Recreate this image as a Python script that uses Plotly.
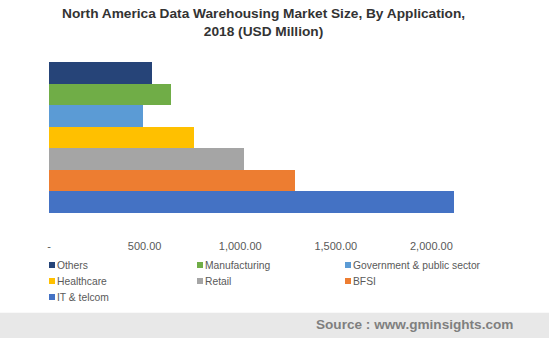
import plotly.graph_objects as go

categories = ["Others", "Manufacturing", "Government & public sector", "Healthcare", "Retail", "BFSI", "IT & telcom"]
values = [541, 640, 494, 756, 1019, 1284, 2117]
colors = ["#264478", "#70AD47", "#5B9BD5", "#FFC000", "#A5A5A5", "#ED7D31", "#4472C4"]
tick_vals = [0, 500, 1000, 1500, 2000]
tick_text = ["-", "500.00", "1,000.00", "1,500.00", "2,000.00"]

W, H = 549, 338
ml, mr, mt, mb = 49, 22, 62, 100
pw, ph = W - ml - mr, H - mt - mb


def py(ypx):
    return (H - mb - ypx) / ph


def px(xpx):
    return (xpx - ml) / pw


fig = go.Figure()
for c, v, col in zip(categories, values, colors):
    fig.add_trace(go.Bar(
        x=[v], y=[c], orientation="h", name=c,
        marker=dict(color=col, line=dict(width=0)),
        hoverinfo="x+y", showlegend=False,
    ))

# legend drawn as swatches + text (3 columns)
shapes = [dict(
    type="rect", xref="paper", yref="paper",
    x0=px(0), x1=px(W), y0=py(H), y1=py(312.7),
    fillcolor="#E8E8E8", line=dict(width=0), layer="below",
)]
annotations = []
col_x = [49, 197, 345]
row_y = [265, 281, 297]
for i, (c, col) in enumerate(zip(categories, colors)):
    x0 = col_x[i % 3]
    yc = row_y[i // 3]
    shapes.append(dict(
        type="rect", xref="paper", yref="paper",
        x0=px(x0), x1=px(x0 + 6), y0=py(yc + 3), y1=py(yc - 3),
        fillcolor=col, line=dict(width=0),
    ))
    annotations.append(dict(
        text=c, xref="paper", yref="paper", x=px(x0 + 6), y=py(yc),
        xanchor="left", yanchor="middle", showarrow=False,
        font=dict(size=10.3, color="#595959"),
    ))

annotations.append(dict(
    text="<b>North America Data Warehousing Market Size, By Application,<br>2018 (USD Million)</b>",
    xref="paper", yref="paper", x=px(263.5), y=py(23),
    xanchor="center", yanchor="middle", showarrow=False,
    font=dict(size=13.7, color="#333333", family="Liberation Sans, Arial, sans-serif"),
))
annotations.append(dict(
    text="<b>Source : www.gminsights.com</b>",
    xref="paper", yref="paper", x=px(515), y=py(324.5),
    xanchor="right", yanchor="middle", showarrow=False,
    font=dict(size=13.6, color="#7F7F7F", family="Liberation Sans, Arial, sans-serif"),
))

fig.update_layout(
    width=W, height=H,
    margin=dict(l=ml, r=mr, t=mt, b=mb),
    paper_bgcolor="white", plot_bgcolor="white",
    barmode="stack", bargap=0,
    font=dict(family="Liberation Sans, Arial, sans-serif", color="#595959", size=11),
    xaxis=dict(
        range=[0, 2500], tickvals=tick_vals, ticktext=tick_text,
        showgrid=False, zeroline=False, showline=False, ticks="",
        tickfont=dict(size=11, color="#595959"),
    ),
    yaxis=dict(
        categoryorder="array", categoryarray=list(reversed(categories)),
        range=[6.5 - ph / 21.53, 6.5],
        showticklabels=False, showgrid=False, zeroline=False, showline=False, ticks="",
    ),
    showlegend=False,
    shapes=shapes,
    annotations=annotations,
)

fig.write_html("out.html")
